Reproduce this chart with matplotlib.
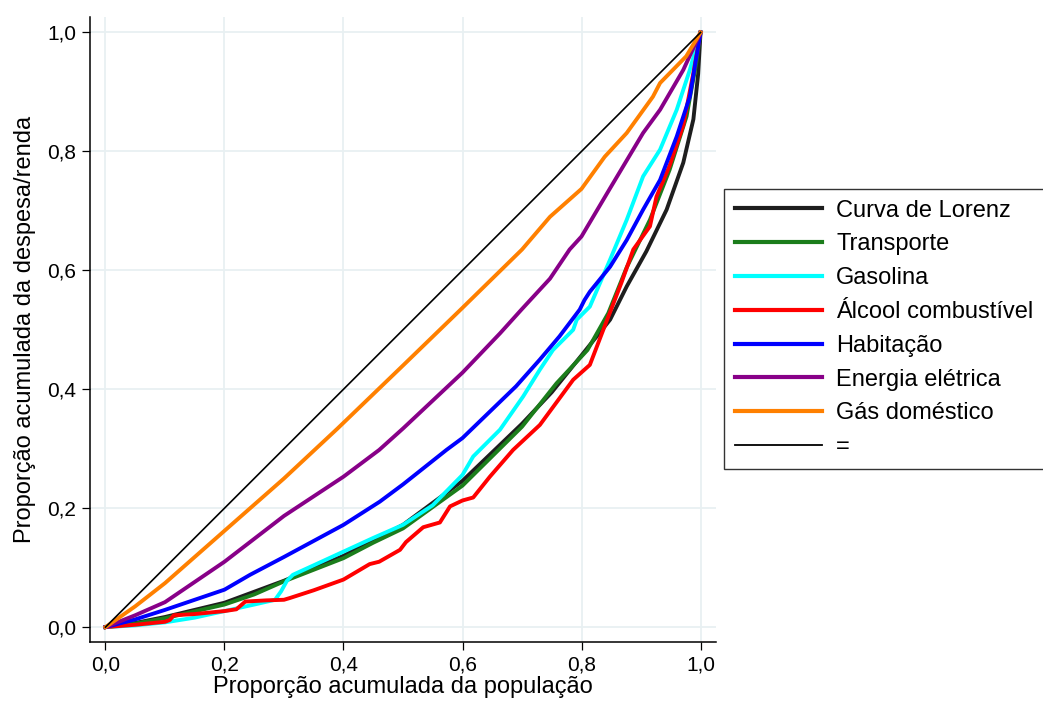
import matplotlib
matplotlib.use("Agg")
import matplotlib.pyplot as plt

plt.rcParams['font.family'] = ['Liberation Sans', 'DejaVu Sans']

# ---- data ----
lorenz_x = [0, 0.05, 0.1, 0.2, 0.3, 0.4, 0.5, 0.6, 0.7, 0.75, 0.8, 0.848, 0.876, 0.909, 0.943, 0.971, 0.988, 0.996, 1.0]
lorenz_y = [0, 0.007, 0.017, 0.041, 0.078, 0.12, 0.172, 0.246, 0.342, 0.395, 0.457, 0.517, 0.573, 0.632, 0.702, 0.781, 0.854, 0.93, 1.0]

transp_x = [0, 0.05, 0.1, 0.2, 0.25, 0.3, 0.4, 0.45, 0.5, 0.6, 0.7, 0.758, 0.81, 0.845, 0.876, 0.915, 0.948, 0.9765, 0.993, 1.0]
transp_y = [0, 0.006, 0.015, 0.038, 0.055, 0.077, 0.116, 0.142, 0.166, 0.238, 0.337, 0.41, 0.466, 0.528, 0.605, 0.685, 0.769, 0.859, 0.95, 1.0]

gasol_x = [0, 0.05, 0.1, 0.15, 0.2, 0.25, 0.285, 0.295, 0.305, 0.315, 0.35, 0.4, 0.45, 0.5, 0.55, 0.6, 0.618, 0.663, 0.702, 0.73, 0.752, 0.786, 0.792, 0.814, 0.848, 0.876, 0.9035, 0.932, 0.96, 0.982, 1.0]
gasol_y = [0, 0.003, 0.008, 0.016, 0.027, 0.038, 0.046, 0.06, 0.078, 0.088, 0.104, 0.127, 0.15, 0.172, 0.205, 0.256, 0.287, 0.332, 0.388, 0.433, 0.466, 0.50, 0.517, 0.539, 0.618, 0.685, 0.758, 0.803, 0.87, 0.937, 1.0]

alcool_x = [0, 0.05, 0.1, 0.108, 0.115, 0.15, 0.2, 0.22, 0.235, 0.27, 0.3, 0.31, 0.35, 0.4, 0.444, 0.46, 0.495, 0.505, 0.534, 0.562, 0.579, 0.6, 0.618, 0.646, 0.685, 0.73, 0.786, 0.814, 0.845, 0.867, 0.887, 0.915, 0.926, 0.948, 0.971, 0.988, 1.0]
alcool_y = [0, 0.004, 0.009, 0.012, 0.02, 0.022, 0.027, 0.03, 0.043, 0.045, 0.046, 0.049, 0.062, 0.08, 0.106, 0.11, 0.13, 0.143, 0.168, 0.176, 0.203, 0.213, 0.218, 0.253, 0.298, 0.34, 0.416, 0.441, 0.522, 0.579, 0.635, 0.674, 0.724, 0.776, 0.844, 0.932, 1.0]

habit_x = [0, 0.05, 0.1, 0.2, 0.243, 0.3, 0.4, 0.461, 0.5, 0.573, 0.6, 0.69, 0.73, 0.763, 0.797, 0.805, 0.814, 0.848, 0.876, 0.9035, 0.932, 0.96, 0.982, 1.0]
habit_y = [0, 0.013, 0.029, 0.063, 0.088, 0.118, 0.172, 0.211, 0.24, 0.298, 0.318, 0.405, 0.45, 0.489, 0.534, 0.55, 0.564, 0.606, 0.651, 0.702, 0.752, 0.825, 0.892, 1.0]

energ_x = [0, 0.05, 0.1, 0.2, 0.3, 0.4, 0.46, 0.5, 0.6, 0.663, 0.7, 0.747, 0.78, 0.8, 0.848, 0.9035, 0.932, 0.971, 1.0]
energ_y = [0, 0.02, 0.042, 0.11, 0.187, 0.253, 0.298, 0.334, 0.428, 0.494, 0.535, 0.586, 0.635, 0.657, 0.738, 0.831, 0.87, 0.937, 1.0]

gas_x = [0, 0.05, 0.1, 0.2, 0.3, 0.39, 0.5, 0.6, 0.7, 0.747, 0.8, 0.839, 0.876, 0.92, 0.932, 0.976, 1.0]
gas_y = [0, 0.035, 0.074, 0.162, 0.25, 0.334, 0.44, 0.537, 0.635, 0.69, 0.737, 0.791, 0.831, 0.892, 0.915, 0.96, 1.0]

eq_x = [0, 1]
eq_y = [0, 1]

labels = ['Curva de Lorenz', 'Transporte', 'Gasolina', 'Álcool combustível',
          'Habitação', 'Energia elétrica', 'Gás doméstico', '=']
ticks = [0, 0.2, 0.4, 0.6, 0.8, 1.0]
tick_labels = ['0,0', '0,2', '0,4', '0,6', '0,8', '1,0']

series = [
    (lorenz_x, lorenz_y, '#1e1e1e', 2.8),
    (transp_x, transp_y, '#1b7d1b', 2.8),
    (gasol_x, gasol_y, '#00ffff', 2.8),
    (alcool_x, alcool_y, '#ff0000', 2.8),
    (habit_x, habit_y, '#0000ff', 2.8),
    (energ_x, energ_y, '#880088', 2.8),
    (gas_x, gas_y, '#ff8000', 2.8),
    (eq_x, eq_y, '#000000', 1.2),
]

fig = plt.figure(figsize=(10.43, 7.02), dpi=100)
ax = fig.add_axes([90/1043, 1-642/702, (716-90)/1043, (642-17)/702])

handles = []
for (x, y, c, lw), lab in zip(series, labels):
    h, = ax.plot(x, y, color=c, lw=lw, label=lab, solid_joinstyle='round')
    handles.append(h)

ax.set_xlim(-0.026, 1.026)
ax.set_ylim(-0.025, 1.026)
ax.set_xticks(ticks)
ax.set_xticklabels(tick_labels)
ax.set_yticks(ticks)
ax.set_yticklabels(tick_labels)
ax.grid(True, color='#e8f0f2', lw=1.3)
ax.set_axisbelow(True)
for s in ['top', 'right']:
    ax.spines[s].set_visible(False)
for s in ['left', 'bottom']:
    ax.spines[s].set_linewidth(1.1)
ax.tick_params(axis='both', length=6, width=0.9, labelsize=15, pad=4, direction='out')
ax.set_xlabel('Proporção acumulada da população', fontsize=17, labelpad=1)
ax.set_ylabel('Proporção acumulada da despesa/renda', fontsize=17, labelpad=8)

leg = fig.legend(handles=handles, labels=labels, loc='upper left',
                 bbox_to_anchor=(724/1043, 1-189/702), fontsize=17,
                 frameon=True, fancybox=False, edgecolor='#000000',
                 handlelength=3.7, handletextpad=0.6, labelspacing=0.5,
                 borderpad=0.45, borderaxespad=0.0)
leg.get_frame().set_linewidth(1.0)
for lh in leg.get_lines():
    if lh.get_label() == '=':
        lh.set_linewidth(1.3)
    else:
        lh.set_linewidth(3.0)

fig.savefig('out.png', dpi=100)
